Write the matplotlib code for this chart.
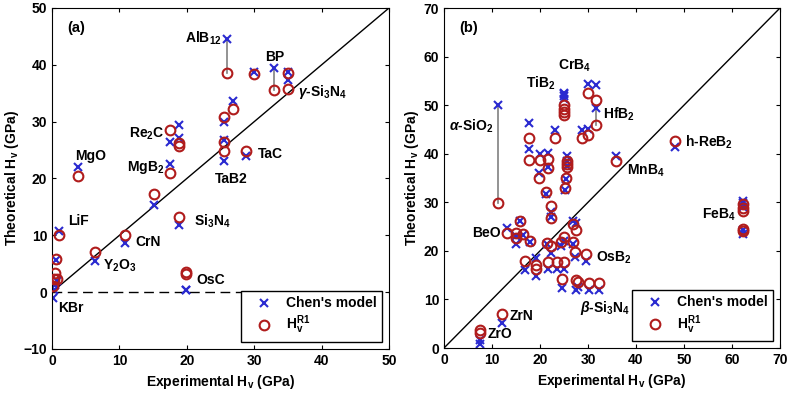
# Theoretical vs experimental Vickers hardness, two panels

import matplotlib
matplotlib.use('Agg')
import matplotlib.pyplot as plt

plt.rcParams['font.family'] = 'Liberation Sans'
plt.rcParams['font.weight'] = 'bold'
plt.rcParams['font.size'] = 10
plt.rcParams['mathtext.fontset'] = 'custom'
plt.rcParams['mathtext.rm'] = 'Liberation Sans:bold'
plt.rcParams['mathtext.it'] = 'Liberation Sans:bold:italic'
plt.rcParams['mathtext.bf'] = 'Liberation Sans:bold'

# ---- panel (a) data: experimental, Chen's model, H_v^R1 ----
exp_a = [0.2, 0.3, 0.7, 0.4, 0.55, 1.0, 3.9, 6.4, 10.9, 15.2, 17.5, 17.5, 18.9, 18.9,
         18.9, 19.9, 19.9, 25.5, 25.5, 25.5, 26.0, 26.9, 28.8, 30.0, 33.0, 35.0, 35.0]
chen_a = [-1.1, 0.3, 1.9, 1.2, 5.6, 10.8, 22.0, 5.4, 8.7, 15.4, 26.5, 22.6, 29.5, 27.1,
          11.9, 0.35, 0.3, 29.9, 26.8, 23.0, 44.6, 33.6, 24.0, 38.8, 39.5, 38.8, 37.3]
r1_a = [1.0, 2.3, 2.3, 3.3, 5.9, 10.1, 20.5, 7.0, 10.0, 17.3, 28.5, 20.9, 26.2, 25.7,
        13.3, 3.6, 3.2, 30.8, 26.4, 24.8, 38.6, 32.3, 24.9, 38.4, 35.6, 38.5, 35.7]

# ---- panel (b) data ----
exp_b = [11.2, 25.0, 25.0, 25.0, 25.0, 30.1, 31.7, 31.7, 17.7, 17.7, 23.1, 28.7, 30.1,
         20.0, 21.7, 21.7, 19.7, 21.3, 25.6, 25.6, 25.6, 25.4, 25.2, 35.9, 48.1,
         62.2, 62.2, 62.2, 62.2, 62.2, 22.3, 22.3, 15.8, 13.1, 15.1, 15.1, 16.5, 17.9,
         21.4, 22.3, 16.9, 19.2, 19.2, 21.6, 23.5, 25.1, 24.4, 25.1, 26.8, 27.6, 26.8,
         27.2, 29.5, 24.6, 27.6, 27.9, 30.2, 32.2, 12.0, 7.4, 7.4]
chen_b = [50.0, 52.5, 52.2, 51.8, 51.3, 54.3, 54.1, 49.5, 46.4, 40.9, 44.8, 44.8, 45.0,
          40.0, 40.1, 37.3, 36.1, 31.8, 39.6, 38.5, 37.5, 34.7, 32.5, 39.6, 41.4,
          30.3, 29.9, 29.0, 24.2, 23.5, 28.0, 27.0, 26.2, 24.8, 21.5, 23.0, 23.2, 21.8,
          21.4, 19.6, 16.0, 18.5, 14.8, 16.2, 16.2, 16.2, 21.0, 22.0, 26.1, 25.8, 21.4,
          18.7, 17.9, 12.4, 11.9, 12.5, 11.9, 11.9, 5.2, 1.6, 0.8]
r1_b = [29.9, 50.0, 49.3, 48.6, 47.9, 52.5, 51.0, 45.9, 43.3, 38.7, 43.3, 43.3, 43.8,
        38.7, 39.0, 37.0, 35.0, 32.2, 38.6, 37.9, 37.2, 35.0, 32.9, 38.5, 42.6,
        29.6, 28.9, 28.3, 24.5, 24.0, 29.2, 26.7, 26.1, 23.7, 22.6, 23.7, 23.5, 22.0,
        21.7, 21.1, 17.9, 17.0, 16.2, 17.8, 17.8, 17.8, 21.9, 22.8, 25.6, 24.3, 21.9,
        19.8, 19.3, 14.3, 14.1, 13.6, 13.3, 13.3, 7.1, 3.7, 3.1]

# material labels (name, x, y)
labels_a = [('AlB$_{12}$', 19.7, 44.7), ('BP', 31.6, 41.4), ('$\\gamma$-Si$_3$N$_4$', 36.5, 35.3),
            ('TaC', 30.6, 24.3), ('TaB2', 24.1, 19.9), ('Re$_2$C', 11.4, 27.9),
            ('MgO', 3.5, 24.0), ('MgB$_2$', 11.1, 22.0), ('LiF', 2.4, 12.6),
            ('CrN', 12.3, 8.8), ('Y$_2$O$_3$', 7.5, 4.7), ('KBr', 0.9, -2.7),
            ('Si$_3$N$_4$', 21.0, 12.5), ('OsC', 21.4, 2.2)]
labels_b = [('$\\alpha$-SiO$_2$', 1.1, 45.7), ('TiB$_2$', 17.1, 54.6), ('CrB$_4$', 23.7, 58.0),
            ('HfB$_2$', 33.2, 48.1), ('MnB$_4$', 38.2, 36.4), ('h-ReB$_2$', 50.2, 42.4),
            ('FeB$_4$', 53.8, 27.5), ('BeO', 5.8, 23.6), ('OsB$_2$', 31.6, 18.6),
            ('$\\beta$-Si$_3$N$_4$', 28.3, 8.3), ('ZrN', 13.75, 6.6), ('ZrO', 9.0, 2.8)]

# gray connectors (x, y_low, y_high)
links_a = [(26.0, 38.6, 44.6), (33.0, 35.6, 39.5)]
links_b = [(11.2, 29.9, 50.0), (31.7, 45.9, 49.5)]

blue = '#2a2ad0'
red = '#b01c1c'

fig = plt.figure(figsize=(7.89, 3.96), dpi=100)
ax1 = fig.add_axes([52 / 789, 47 / 396, 337 / 789, 341 / 396])
ax2 = fig.add_axes([444 / 789, 48 / 396, 336 / 789, 340 / 396])


def draw_panel(ax, ex, chen, r1, labels, links, lim, tag):
    ax.plot(lim, lim, color='black', lw=1.0, zorder=1)
    for x, y0, y1 in links:
        ax.plot([x, x], [y0, y1], color='gray', lw=1.2, zorder=1)
    ax.plot(ex, chen, 'x', color=blue, ms=6, mew=1.5, label="Chen's model", zorder=2)
    ax.plot(ex, r1, 'o', mfc='none', mec=red, ms=7, mew=1.5,
            label='H$_\\mathrm{v}^\\mathrm{R1}$', zorder=3)
    for name, x, y in labels:
        ax.text(x, y, name, ha='left', va='center', fontsize=10, fontweight='bold')
    ax.text(0.045, 0.93, tag, transform=ax.transAxes, fontsize=10.5, fontweight='bold')
    ax.set_xlabel('Experimental H$_\\mathrm{v}$ (GPa)', fontsize=10, fontweight='bold')
    ax.set_ylabel('Theoretical H$_\\mathrm{v}$ (GPa)', fontsize=10, fontweight='bold',
                  labelpad=2)
    ax.tick_params(direction='in', top=True, right=True, length=3, labelsize=10)
    for lb in ax.get_xticklabels() + ax.get_yticklabels():
        lb.set_fontweight('bold')
    leg = ax.legend(loc='lower right', fancybox=False, edgecolor='black', framealpha=1,
                    handlelength=2.5, handletextpad=0.35, labelspacing=0.25,
                    borderpad=0.4, borderaxespad=0.5, fontsize=10)
    leg.get_frame().set_linewidth(1.0)


draw_panel(ax1, exp_a, chen_a, r1_a, labels_a, links_a, [-10, 50], '(a)')
ax1.axhline(0, color='black', ls='--', lw=1.0, dashes=(7, 4), zorder=1)
ax1.set_xlim(0, 50)
ax1.set_ylim(-10, 50)
ax1.set_xticks([0, 10, 20, 30, 40, 50])
ax1.set_yticks([-10, 0, 10, 20, 30, 40, 50])

draw_panel(ax2, exp_b, chen_b, r1_b, labels_b, links_b, [0, 70], '(b)')
ax2.set_xlim(0, 70)
ax2.set_ylim(0, 70)
ax2.set_xticks(range(0, 71, 10))
ax2.set_yticks(range(0, 71, 10))

fig.savefig('out.png', dpi=100)
